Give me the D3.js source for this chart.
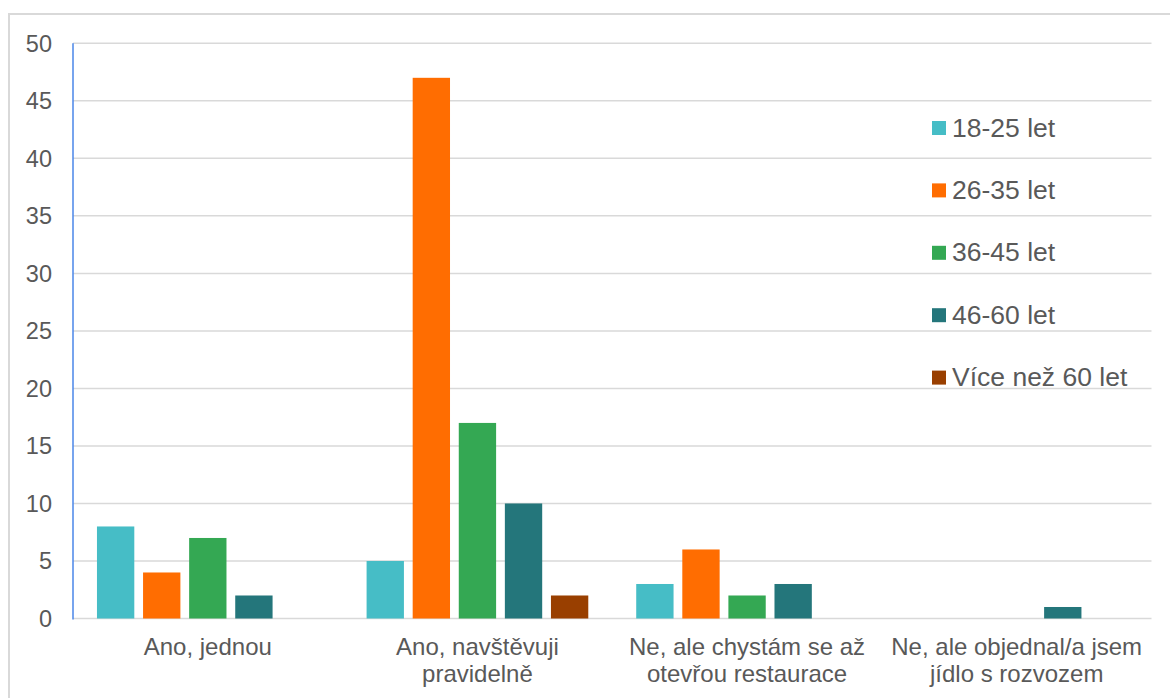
<!DOCTYPE html>
<html>
<head>
<meta charset="utf-8">
<script src="https://cdn.jsdelivr.net/npm/d3@7"></script>
<style>
  html, body { margin: 0; padding: 0; background: #fff; }
  svg { display: block; font-family: "Liberation Sans", Arial, sans-serif; }
</style>
</head>
<body>
<svg id="chart" width="1170" height="698"></svg>
<script>
const categories = [
  ["Ano, jednou"],
  ["Ano, navštěvuji", "pravidelně"],
  ["Ne, ale chystám se až", "otevřou restaurace"],
  ["Ne, ale objednal/a jsem", "jídlo s rozvozem"]
];
const seriesNames = ["18-25 let", "26-35 let", "36-45 let", "46-60 let", "Více než 60 let"];
const seriesColors = ["#46bdc6", "#ff6d01", "#34a853", "#24767b", "#993f00"];
const values18_25 = [8, 5, 3, 0];
const values26_35 = [4, 47, 6, 0];
const values36_45 = [7, 17, 2, 0];
const values46_60 = [2, 10, 3, 1];
const valuesOver60 = [0, 2, 0, 0];
const yTicks = [0, 5, 10, 15, 20, 25, 30, 35, 40, 45, 50];

const seriesValues = [values18_25, values26_35, values36_45, values46_60, valuesOver60];

const svg = d3.select("#chart");
const textColor = "#595959";

// outer frame
svg.append("path")
  .attr("d", "M9,698 L9,14 L1170,14")
  .attr("fill", "none")
  .attr("stroke", "#d9d9d9")
  .attr("stroke-width", 2);

const plot = { left: 73, right: 1151.5, top: 43.3, bottom: 618.5 };

const x0 = d3.scaleBand()
  .domain(d3.range(categories.length))
  .range([plot.left, plot.right])
  .padding(0);

const x1 = d3.scaleBand()
  .domain(d3.range(seriesNames.length))
  .range([0, x0.bandwidth()])
  .paddingInner(0.19)
  .paddingOuter(0.52);

const y = d3.scaleLinear().domain([0, 50]).range([plot.bottom, plot.top]);

// gridlines
svg.append("g")
  .selectAll("line")
  .data(yTicks)
  .join("line")
  .attr("x1", plot.left)
  .attr("x2", plot.right)
  .attr("y1", d => y(d))
  .attr("y2", d => y(d))
  .attr("stroke", "#d9d9d9")
  .attr("stroke-width", 1.5);

// y tick labels
svg.append("g")
  .selectAll("text")
  .data(yTicks)
  .join("text")
  .attr("x", 52)
  .attr("y", d => y(d))
  .attr("dy", "0.36em")
  .attr("text-anchor", "end")
  .attr("fill", textColor)
  .attr("font-size", "23.5px")
  .text(d => d);

// bars
const groups = svg.append("g")
  .selectAll("g")
  .data(categories.map((c, i) => i))
  .join("g")
  .attr("transform", i => `translate(${x0(i)},0)`);

groups.selectAll("rect")
  .data(i => seriesValues.map((vals, s) => ({ s, v: vals[i] })).filter(d => d.v > 0))
  .join("rect")
  .attr("x", d => x1(d.s))
  .attr("width", x1.bandwidth())
  .attr("y", d => y(d.v))
  .attr("height", d => y(0) - y(d.v))
  .attr("fill", d => seriesColors[d.s]);

// left axis line
svg.append("line")
  .attr("x1", plot.left).attr("x2", plot.left)
  .attr("y1", plot.top).attr("y2", plot.bottom + 1)
  .attr("stroke", "#4a86e8")
  .attr("stroke-width", 1.5);

// category labels
const catLabels = svg.append("g")
  .selectAll("text")
  .data(categories)
  .join("text")
  .attr("x", (d, i) => x0(i) + x0.bandwidth() / 2)
  .attr("y", 655)
  .attr("text-anchor", "middle")
  .attr("fill", textColor)
  .attr("font-size", "24px");
catLabels.selectAll("tspan")
  .data(d => d)
  .join("tspan")
  .attr("x", function() { return d3.select(this.parentNode).attr("x"); })
  .attr("dy", (d, j) => j === 0 ? 0 : 27)
  .text(d => d);

// legend
const legend = svg.append("g")
  .selectAll("g")
  .data(seriesNames)
  .join("g")
  .attr("transform", (d, i) => `translate(932,${121 + i * 62.4})`);
legend.append("rect")
  .attr("width", 14).attr("height", 14)
  .attr("fill", (d, i) => seriesColors[i]);
legend.append("text")
  .attr("x", 20)
  .attr("y", 15.5)
  .attr("fill", textColor)
  .attr("font-size", "26.5px")
  .text(d => d);
</script>
</body>
</html>
